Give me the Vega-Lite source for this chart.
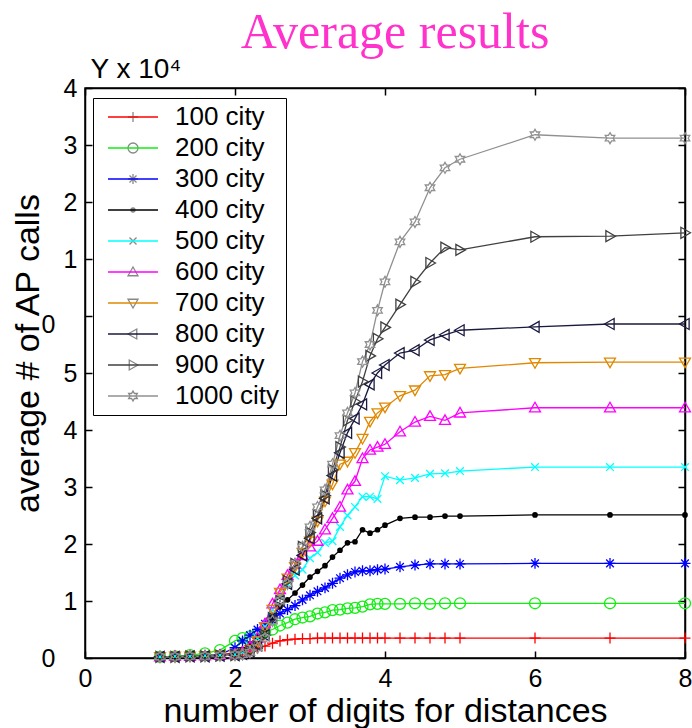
{
"$schema":"https://vega.github.io/schema/vega-lite/v6.json",
"width":600,"height":570,
"autosize":{"type":"none"},
"padding":{"left":85,"top":88,"right":7,"bottom":70},
"background":"white",
"title":{"text":"Average results","font":"Liberation Serif","fontSize":50,"fontWeight":"normal","color":"#ff33cc","anchor":"middle","frame":"group","offset":12,"dy":55,"baseline":"alphabetic","dx":10},
"config":{
 "view":{"stroke":"black","strokeWidth":1.5},
 "axis":{"labelFont":"Liberation Sans","titleFont":"Liberation Sans","labelColor":"black","titleColor":"black","domainColor":"black","tickColor":"black","grid":false,"domainWidth":1.5,"tickWidth":1.5,"titleFontWeight":"normal"}
},
"data":{"values":[
{"c":"100 city","d":1,"v":0.02},{"c":"100 city","d":1.2,"v":0.02},{"c":"100 city","d":1.4,"v":0.03},{"c":"100 city","d":1.6,"v":0.04},{"c":"100 city","d":1.8,"v":0.06},
{"c":"100 city","d":2,"v":0.08},{"c":"100 city","d":2.1,"v":0.1},{"c":"100 city","d":2.2,"v":0.13},{"c":"100 city","d":2.3,"v":0.17},{"c":"100 city","d":2.4,"v":0.21},{"c":"100 city","d":2.5,"v":0.26},{"c":"100 city","d":2.6,"v":0.3},{"c":"100 city","d":2.7,"v":0.32},{"c":"100 city","d":2.8,"v":0.33},{"c":"100 city","d":2.9,"v":0.34},{"c":"100 city","d":3,"v":0.34},{"c":"100 city","d":3.1,"v":0.35},{"c":"100 city","d":3.2,"v":0.35},{"c":"100 city","d":3.3,"v":0.35},{"c":"100 city","d":3.4,"v":0.35},{"c":"100 city","d":3.5,"v":0.35},{"c":"100 city","d":3.6,"v":0.35},{"c":"100 city","d":3.7,"v":0.35},{"c":"100 city","d":3.8,"v":0.35},{"c":"100 city","d":3.9,"v":0.35},{"c":"100 city","d":4,"v":0.35},
{"c":"100 city","d":4.2,"v":0.35},{"c":"100 city","d":4.4,"v":0.35},{"c":"100 city","d":4.6,"v":0.35},{"c":"100 city","d":4.8,"v":0.35},{"c":"100 city","d":5,"v":0.35},{"c":"100 city","d":6,"v":0.35},{"c":"100 city","d":7,"v":0.35},{"c":"100 city","d":8,"v":0.35},

{"c":"200 city","d":1,"v":0.02},{"c":"200 city","d":1.2,"v":0.03},{"c":"200 city","d":1.4,"v":0.05},{"c":"200 city","d":1.6,"v":0.08},{"c":"200 city","d":1.8,"v":0.14},
{"c":"200 city","d":2,"v":0.3},{"c":"200 city","d":2.1,"v":0.35},{"c":"200 city","d":2.2,"v":0.38},{"c":"200 city","d":2.3,"v":0.43},{"c":"200 city","d":2.4,"v":0.46},{"c":"200 city","d":2.5,"v":0.5},{"c":"200 city","d":2.6,"v":0.57},{"c":"200 city","d":2.7,"v":0.62},{"c":"200 city","d":2.8,"v":0.68},{"c":"200 city","d":2.9,"v":0.71},{"c":"200 city","d":3,"v":0.73},{"c":"200 city","d":3.1,"v":0.78},{"c":"200 city","d":3.2,"v":0.8},{"c":"200 city","d":3.3,"v":0.84},{"c":"200 city","d":3.4,"v":0.85},{"c":"200 city","d":3.5,"v":0.87},{"c":"200 city","d":3.6,"v":0.88},{"c":"200 city","d":3.7,"v":0.9},{"c":"200 city","d":3.8,"v":0.94},{"c":"200 city","d":3.9,"v":0.95},{"c":"200 city","d":4,"v":0.95},
{"c":"200 city","d":4.2,"v":0.95},{"c":"200 city","d":4.4,"v":0.96},{"c":"200 city","d":4.6,"v":0.95},{"c":"200 city","d":4.8,"v":0.96},{"c":"200 city","d":5,"v":0.96},{"c":"200 city","d":6,"v":0.96},{"c":"200 city","d":7,"v":0.96},{"c":"200 city","d":8,"v":0.96},

{"c":"300 city","d":1,"v":0.02},{"c":"300 city","d":1.2,"v":0.03},{"c":"300 city","d":1.4,"v":0.03},{"c":"300 city","d":1.6,"v":0.04},{"c":"300 city","d":1.8,"v":0.06},
{"c":"300 city","d":2,"v":0.18},{"c":"300 city","d":2.1,"v":0.3},{"c":"300 city","d":2.2,"v":0.4},{"c":"300 city","d":2.3,"v":0.5},{"c":"300 city","d":2.4,"v":0.6},{"c":"300 city","d":2.5,"v":0.7},{"c":"300 city","d":2.6,"v":0.78},{"c":"300 city","d":2.7,"v":0.85},{"c":"300 city","d":2.8,"v":0.92},{"c":"300 city","d":2.9,"v":1.02},{"c":"300 city","d":3,"v":1.1},{"c":"300 city","d":3.1,"v":1.17},{"c":"300 city","d":3.2,"v":1.23},{"c":"300 city","d":3.3,"v":1.31},{"c":"300 city","d":3.4,"v":1.4},{"c":"300 city","d":3.5,"v":1.46},{"c":"300 city","d":3.6,"v":1.51},{"c":"300 city","d":3.7,"v":1.53},{"c":"300 city","d":3.8,"v":1.53},{"c":"300 city","d":3.9,"v":1.55},{"c":"300 city","d":4,"v":1.56},
{"c":"300 city","d":4.2,"v":1.6},{"c":"300 city","d":4.4,"v":1.63},{"c":"300 city","d":4.6,"v":1.65},{"c":"300 city","d":4.8,"v":1.65},{"c":"300 city","d":5,"v":1.65},{"c":"300 city","d":6,"v":1.66},{"c":"300 city","d":7,"v":1.66},{"c":"300 city","d":8,"v":1.66},

{"c":"400 city","d":1,"v":0.02},{"c":"400 city","d":1.2,"v":0.03},{"c":"400 city","d":1.4,"v":0.03},{"c":"400 city","d":1.6,"v":0.04},{"c":"400 city","d":1.8,"v":0.05},
{"c":"400 city","d":2,"v":0.08},{"c":"400 city","d":2.1,"v":0.15},{"c":"400 city","d":2.2,"v":0.25},{"c":"400 city","d":2.3,"v":0.37},{"c":"400 city","d":2.4,"v":0.5},{"c":"400 city","d":2.5,"v":0.72},{"c":"400 city","d":2.6,"v":0.9},{"c":"400 city","d":2.7,"v":1.02},{"c":"400 city","d":2.8,"v":1.14},{"c":"400 city","d":2.9,"v":1.28},{"c":"400 city","d":3,"v":1.42},{"c":"400 city","d":3.1,"v":1.52},{"c":"400 city","d":3.2,"v":1.62},{"c":"400 city","d":3.3,"v":1.77},{"c":"400 city","d":3.4,"v":1.89},{"c":"400 city","d":3.5,"v":2.02},{"c":"400 city","d":3.6,"v":2.04},{"c":"400 city","d":3.7,"v":2.25},{"c":"400 city","d":3.8,"v":2.19},{"c":"400 city","d":3.9,"v":2.25},{"c":"400 city","d":4,"v":2.33},
{"c":"400 city","d":4.2,"v":2.45},{"c":"400 city","d":4.4,"v":2.47},{"c":"400 city","d":4.6,"v":2.47},{"c":"400 city","d":4.8,"v":2.49},{"c":"400 city","d":5,"v":2.49},{"c":"400 city","d":6,"v":2.51},{"c":"400 city","d":7,"v":2.51},{"c":"400 city","d":8,"v":2.51},

{"c":"500 city","d":1,"v":0.02},{"c":"500 city","d":1.2,"v":0.03},{"c":"500 city","d":1.4,"v":0.03},{"c":"500 city","d":1.6,"v":0.04},{"c":"500 city","d":1.8,"v":0.05},
{"c":"500 city","d":2,"v":0.06},{"c":"500 city","d":2.1,"v":0.1},{"c":"500 city","d":2.2,"v":0.2},{"c":"500 city","d":2.3,"v":0.35},{"c":"500 city","d":2.4,"v":0.55},{"c":"500 city","d":2.5,"v":0.85},{"c":"500 city","d":2.6,"v":1.1},{"c":"500 city","d":2.7,"v":1.3},{"c":"500 city","d":2.8,"v":1.45},{"c":"500 city","d":2.9,"v":1.55},{"c":"500 city","d":3,"v":1.75},{"c":"500 city","d":3.1,"v":1.85},{"c":"500 city","d":3.2,"v":2.02},{"c":"500 city","d":3.3,"v":2.05},{"c":"500 city","d":3.4,"v":2.3},{"c":"500 city","d":3.5,"v":2.5},{"c":"500 city","d":3.6,"v":2.65},{"c":"500 city","d":3.7,"v":2.83},{"c":"500 city","d":3.8,"v":2.83},{"c":"500 city","d":3.9,"v":2.79},{"c":"500 city","d":4,"v":3.19},
{"c":"500 city","d":4.2,"v":3.12},{"c":"500 city","d":4.4,"v":3.16},{"c":"500 city","d":4.6,"v":3.23},{"c":"500 city","d":4.8,"v":3.24},{"c":"500 city","d":5,"v":3.28},{"c":"500 city","d":6,"v":3.35},{"c":"500 city","d":7,"v":3.35},{"c":"500 city","d":8,"v":3.35},

{"c":"600 city","d":1,"v":0.02},{"c":"600 city","d":1.2,"v":0.03},{"c":"600 city","d":1.4,"v":0.03},{"c":"600 city","d":1.6,"v":0.04},{"c":"600 city","d":1.8,"v":0.05},
{"c":"600 city","d":2,"v":0.07},{"c":"600 city","d":2.1,"v":0.1},{"c":"600 city","d":2.2,"v":0.2},{"c":"600 city","d":2.3,"v":0.35},{"c":"600 city","d":2.4,"v":0.6},{"c":"600 city","d":2.5,"v":0.95},{"c":"600 city","d":2.6,"v":1.2},{"c":"600 city","d":2.7,"v":1.45},{"c":"600 city","d":2.8,"v":1.65},{"c":"600 city","d":2.9,"v":1.8},{"c":"600 city","d":3,"v":1.95},{"c":"600 city","d":3.1,"v":2.05},{"c":"600 city","d":3.2,"v":2.25},{"c":"600 city","d":3.3,"v":2.45},{"c":"600 city","d":3.4,"v":2.65},{"c":"600 city","d":3.5,"v":2.95},{"c":"600 city","d":3.6,"v":3.1},{"c":"600 city","d":3.7,"v":3.5},{"c":"600 city","d":3.8,"v":3.65},{"c":"600 city","d":3.9,"v":3.7},{"c":"600 city","d":4,"v":3.75},
{"c":"600 city","d":4.2,"v":3.97},{"c":"600 city","d":4.4,"v":4.14},{"c":"600 city","d":4.6,"v":4.24},{"c":"600 city","d":4.8,"v":4.17},{"c":"600 city","d":5,"v":4.3},{"c":"600 city","d":6,"v":4.39},{"c":"600 city","d":7,"v":4.39},{"c":"600 city","d":8,"v":4.39},

{"c":"700 city","d":1,"v":0.02},{"c":"700 city","d":1.2,"v":0.03},{"c":"700 city","d":1.4,"v":0.03},{"c":"700 city","d":1.6,"v":0.04},{"c":"700 city","d":1.8,"v":0.05},
{"c":"700 city","d":2,"v":0.06},{"c":"700 city","d":2.1,"v":0.08},{"c":"700 city","d":2.2,"v":0.15},{"c":"700 city","d":2.3,"v":0.3},{"c":"700 city","d":2.4,"v":0.55},{"c":"700 city","d":2.5,"v":0.85},{"c":"700 city","d":2.6,"v":1.15},{"c":"700 city","d":2.7,"v":1.4},{"c":"700 city","d":2.8,"v":1.6},{"c":"700 city","d":2.9,"v":1.85},{"c":"700 city","d":3,"v":2.05},{"c":"700 city","d":3.1,"v":2.4},{"c":"700 city","d":3.2,"v":2.75},{"c":"700 city","d":3.3,"v":3.05},{"c":"700 city","d":3.4,"v":3.4},{"c":"700 city","d":3.5,"v":3.45},{"c":"700 city","d":3.6,"v":3.6},{"c":"700 city","d":3.7,"v":3.85},{"c":"700 city","d":3.8,"v":4.15},{"c":"700 city","d":3.9,"v":4.3},{"c":"700 city","d":4,"v":4.4},
{"c":"700 city","d":4.2,"v":4.6},{"c":"700 city","d":4.4,"v":4.7},{"c":"700 city","d":4.6,"v":4.95},{"c":"700 city","d":4.8,"v":4.97},{"c":"700 city","d":5,"v":5.08},{"c":"700 city","d":6,"v":5.18},{"c":"700 city","d":7,"v":5.19},{"c":"700 city","d":8,"v":5.19},

{"c":"800 city","d":1,"v":0.02},{"c":"800 city","d":1.2,"v":0.02},{"c":"800 city","d":1.4,"v":0.03},{"c":"800 city","d":1.6,"v":0.03},{"c":"800 city","d":1.8,"v":0.04},
{"c":"800 city","d":2,"v":0.05},{"c":"800 city","d":2.1,"v":0.07},{"c":"800 city","d":2.2,"v":0.12},{"c":"800 city","d":2.3,"v":0.22},{"c":"800 city","d":2.4,"v":0.4},{"c":"800 city","d":2.5,"v":0.7},{"c":"800 city","d":2.6,"v":1.0},{"c":"800 city","d":2.7,"v":1.3},{"c":"800 city","d":2.8,"v":1.55},{"c":"800 city","d":2.9,"v":1.8},{"c":"800 city","d":3,"v":2.1},{"c":"800 city","d":3.1,"v":2.45},{"c":"800 city","d":3.2,"v":2.8},{"c":"800 city","d":3.3,"v":3.2},{"c":"800 city","d":3.4,"v":3.6},{"c":"800 city","d":3.5,"v":3.95},{"c":"800 city","d":3.6,"v":4.2},{"c":"800 city","d":3.7,"v":4.45},{"c":"800 city","d":3.8,"v":4.8},{"c":"800 city","d":3.9,"v":5.0},{"c":"800 city","d":4,"v":5.14},
{"c":"800 city","d":4.2,"v":5.35},{"c":"800 city","d":4.4,"v":5.4},{"c":"800 city","d":4.6,"v":5.58},{"c":"800 city","d":4.8,"v":5.67},{"c":"800 city","d":5,"v":5.75},{"c":"800 city","d":6,"v":5.81},{"c":"800 city","d":7,"v":5.86},{"c":"800 city","d":8,"v":5.86},

{"c":"900 city","d":1,"v":0.02},{"c":"900 city","d":1.2,"v":0.02},{"c":"900 city","d":1.4,"v":0.03},{"c":"900 city","d":1.6,"v":0.03},{"c":"900 city","d":1.8,"v":0.04},
{"c":"900 city","d":2,"v":0.05},{"c":"900 city","d":2.1,"v":0.07},{"c":"900 city","d":2.2,"v":0.12},{"c":"900 city","d":2.3,"v":0.2},{"c":"900 city","d":2.4,"v":0.4},{"c":"900 city","d":2.5,"v":0.7},{"c":"900 city","d":2.6,"v":1.0},{"c":"900 city","d":2.7,"v":1.35},{"c":"900 city","d":2.8,"v":1.65},{"c":"900 city","d":2.9,"v":1.95},{"c":"900 city","d":3,"v":2.2},{"c":"900 city","d":3.1,"v":2.5},{"c":"900 city","d":3.2,"v":2.85},{"c":"900 city","d":3.3,"v":3.3},{"c":"900 city","d":3.4,"v":3.7},{"c":"900 city","d":3.5,"v":4.17},{"c":"900 city","d":3.6,"v":4.5},{"c":"900 city","d":3.7,"v":4.85},{"c":"900 city","d":3.8,"v":5.3},{"c":"900 city","d":3.9,"v":5.6},{"c":"900 city","d":4,"v":5.8},
{"c":"900 city","d":4.2,"v":6.2},{"c":"900 city","d":4.4,"v":6.6},{"c":"900 city","d":4.6,"v":6.93},{"c":"900 city","d":4.8,"v":7.2},{"c":"900 city","d":5,"v":7.16},{"c":"900 city","d":6,"v":7.39},{"c":"900 city","d":7,"v":7.4},{"c":"900 city","d":8,"v":7.46},

{"c":"1000 city","d":1,"v":0.02},{"c":"1000 city","d":1.2,"v":0.02},{"c":"1000 city","d":1.4,"v":0.03},{"c":"1000 city","d":1.6,"v":0.03},{"c":"1000 city","d":1.8,"v":0.04},
{"c":"1000 city","d":2,"v":0.05},{"c":"1000 city","d":2.1,"v":0.06},{"c":"1000 city","d":2.2,"v":0.1},{"c":"1000 city","d":2.3,"v":0.18},{"c":"1000 city","d":2.4,"v":0.35},{"c":"1000 city","d":2.5,"v":0.65},{"c":"1000 city","d":2.6,"v":1.0},{"c":"1000 city","d":2.7,"v":1.3},{"c":"1000 city","d":2.8,"v":1.65},{"c":"1000 city","d":2.9,"v":1.95},{"c":"1000 city","d":3,"v":2.3},{"c":"1000 city","d":3.1,"v":2.65},{"c":"1000 city","d":3.2,"v":2.95},{"c":"1000 city","d":3.3,"v":3.4},{"c":"1000 city","d":3.4,"v":3.9},{"c":"1000 city","d":3.5,"v":4.3},{"c":"1000 city","d":3.6,"v":4.65},{"c":"1000 city","d":3.7,"v":5.2},{"c":"1000 city","d":3.8,"v":5.5},{"c":"1000 city","d":3.9,"v":6.1},{"c":"1000 city","d":4,"v":6.6},
{"c":"1000 city","d":4.2,"v":7.3},{"c":"1000 city","d":4.4,"v":7.65},{"c":"1000 city","d":4.6,"v":8.25},{"c":"1000 city","d":4.8,"v":8.6},{"c":"1000 city","d":5,"v":8.75},{"c":"1000 city","d":6,"v":9.18},{"c":"1000 city","d":7,"v":9.12},{"c":"1000 city","d":8,"v":9.12}
]},
"layer":[
 {"mark":{"type":"line","strokeWidth":1.3},
  "encoding":{
   "x":{"field":"d","type":"quantitative","scale":{"domain":[0,8],"nice":false,"zero":false},
        "axis":{"orient":"bottom","values":[0,2,4,6,8],"tickSize":-7,"labelPadding":15,"labelFontSize":25,"labelFlush":false,"labelOverlap":false,"title":"number of digits for distances","titleFontSize":34,"titleY":63,"titleBaseline":"alphabetic"}},
   "y":{"field":"v","type":"quantitative","scale":{"domain":[0,10],"nice":false},
        "axis":{"orient":"left","values":[0,1,2,3,4,5,6,7,8,9,10],"tickSize":-7,
                "labelPadding":{"condition":{"test":"datum.value == 0 || datum.value == 6","value":37},"value":15},
                "labelOffset":{"condition":{"test":"datum.value == 6","value":8},"value":0},
                "labelFontSize":25,"labelFlush":false,"labelOverlap":false,"labelExpr":"['0','1','2','3','4','5','0','1','2','3','4'][datum.value]","title":"average # of AP calls","titleFontSize":34,"titleX":-47,"titleY":265,"titleAngle":-90,"titleAlign":"center","titleBaseline":"alphabetic"}},
   "color":{"field":"c","type":"nominal",
     "scale":{"domain":["100 city","200 city","300 city","400 city","500 city","600 city","700 city","800 city","900 city","1000 city"],
              "range":["#ff0000","#11ee11","#0000ff","#000000","#00ffff","#ff00ff","#e08800","#1a1a40","#404040","#909090"]},
     "legend":{"orient":"none","legendX":8,"legendY":10,"title":null,"padding":6,"strokeColor":"black","labelFont":"Liberation Sans","labelFontSize":26,"labelColor":"black","labelOffset":29,"symbolOffset":21,"symbolSize":100,"symbolType":"M-5,0L5,0","symbolStrokeWidth":1.3,"rowPadding":5,"labelLimit":300}}
  }},
 {"mark":{"type":"point","filled":false,"size":120,"strokeWidth":1.3,"opacity":1},
  "encoding":{
   "x":{"field":"d","type":"quantitative","scale":{"domain":[0,8],"nice":false,"zero":false},"axis":null},
   "y":{"field":"v","type":"quantitative","scale":{"domain":[0,10],"nice":false},"axis":null},
   "color":{"field":"c","type":"nominal",
     "scale":{"domain":["100 city","200 city","300 city","400 city","500 city","600 city","700 city","800 city","900 city","1000 city"],
              "range":["#ff0000","#11ee11","#0000ff","#000000","#00ffff","#ff00ff","#e08800","#1a1a40","#404040","#909090"]},
     "legend":null},
   "shape":{"field":"c","type":"nominal",
     "scale":{"domain":["100 city","200 city","300 city","400 city","500 city","600 city","700 city","800 city","900 city","1000 city"],
              "range":["M-1,0L1,0M0,-1L0,1","M-1,0A1,1 0 1,0 1,0A1,1 0 1,0 -1,0","M-1,0L1,0M0,-1L0,1M-0.7,-0.7L0.7,0.7M-0.7,0.7L0.7,-0.7","M-0.4,0A0.4,0.4 0 1,0 0.4,0A0.4,0.4 0 1,0 -0.4,0M-0.18,0A0.18,0.18 0 1,0 0.18,0A0.18,0.18 0 1,0 -0.18,0","M-0.7,-0.7L0.7,0.7M-0.7,0.7L0.7,-0.7","M0,-1L1,0.75L-1,0.75Z","M0,1L1,-0.75L-1,-0.75Z","M-1,0L0.75,-1L0.75,1Z","M1,0L-0.75,-1L-0.75,1Z","M0,-1L0.289,-0.5L0.866,-0.5L0.577,0L0.866,0.5L0.289,0.5L0,1L-0.289,0.5L-0.866,0.5L-0.577,0L-0.866,-0.5L-0.289,-0.5Z"]},
     "legend":{"orient":"none","legendX":8,"legendY":10,"title":null,"padding":6,"labelFont":"Liberation Sans","labelFontSize":26,"labelOffset":29,"symbolOffset":21,"symbolSize":100,"symbolStrokeWidth":1.3,"rowPadding":5,"labelExpr":"''"}}
  }},
 {"mark":{"type":"point","opacity":0},
  "encoding":{
   "x":{"field":"d","type":"quantitative","scale":{"domain":[0,8],"nice":false,"zero":false},
        "axis":{"orient":"top","values":[0,2,4,6,8],"tickSize":-7,"labels":false,"title":null}},
   "y":{"field":"v","type":"quantitative","scale":{"domain":[0,10],"nice":false},
        "axis":{"orient":"right","values":[0,1,2,3,4,5,6,7,8,9,10],"tickSize":-7,"labels":false,"title":"Y x 10⁴","titleFontSize":28,"titleAngle":0,"titleX":-595,"titleY":-11,"titleAlign":"left","titleBaseline":"alphabetic"}}
  }}
],
"resolve":{"axis":{"x":"independent","y":"independent"},"legend":{"color":"independent"}}
}
